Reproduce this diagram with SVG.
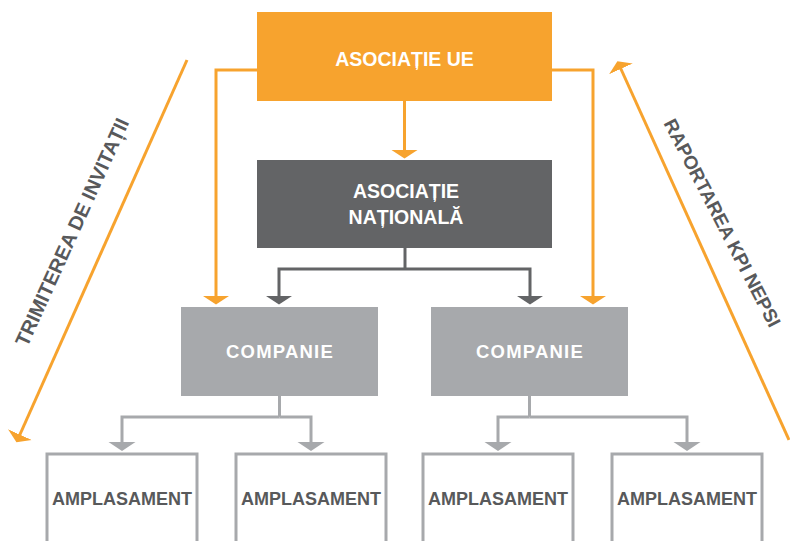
<svg xmlns="http://www.w3.org/2000/svg" width="790" height="541" viewBox="0 0 790 541">
<style>
.t{font-family:"Liberation Sans",Arial,sans-serif;font-weight:bold;text-anchor:middle}
.w{fill:#ffffff;font-size:19.5px}
.c{fill:#ffffff;font-size:18.5px;letter-spacing:1.2px}
.d{fill:#58595B}
.o{stroke:#F7A32E;stroke-width:3;fill:none}
.k{stroke:#636466;stroke-width:3;fill:none}
.g{stroke:#A7A9AC;stroke-width:3;fill:none}
</style>
<defs>
<marker id="ao" markerUnits="userSpaceOnUse" orient="auto" markerWidth="9" markerHeight="28" viewBox="0 -14 9 28" refX="1" refY="0"><path d="M0,-13 L8.5,0 L0,13 Z" fill="#F7A32E"/></marker>
<marker id="ak" markerUnits="userSpaceOnUse" orient="auto" markerWidth="9" markerHeight="28" viewBox="0 -14 9 28" refX="1" refY="0"><path d="M0,-13 L8.5,0 L0,13 Z" fill="#636466"/></marker>
<marker id="ag" markerUnits="userSpaceOnUse" orient="auto" markerWidth="10" markerHeight="28" viewBox="0 -14 10 28" refX="1" refY="0"><path d="M0,-13.5 L9,0 L0,13.5 Z" fill="#A7A9AC"/></marker>
</defs>
<g id="connectors">
<path class="o" d="M404.5,101 V151" marker-end="url(#ao)"/>
<path class="o" d="M257,70 H216 V297" marker-end="url(#ao)"/>
<path class="o" d="M552,70 H593 V297" marker-end="url(#ao)"/>
<path class="k" d="M405,248 V269"/>
<path class="k" d="M405,269 H279 V297" marker-end="url(#ak)"/>
<path class="k" d="M405,269 H530 V297" marker-end="url(#ak)"/>
<path class="g" d="M279.5,396 V417"/>
<path class="g" d="M279.5,417 H122 V443" marker-end="url(#ag)"/>
<path class="g" d="M279.5,417 H311 V443" marker-end="url(#ag)"/>
<path class="g" d="M529.5,396 V417"/>
<path class="g" d="M529.5,417 H498 V443" marker-end="url(#ag)"/>
<path class="g" d="M529.5,417 H687 V443" marker-end="url(#ag)"/>
<path class="o" d="M187,60 L19.5,435.5" marker-end="url(#ao)"/>
<path class="o" d="M789,440 L620.5,68" marker-end="url(#ao)"/>
</g>
<g id="asociatie-ue">
<rect x="257" y="12" width="295" height="89" fill="#F7A32E"/>
<text class="t w" x="404.5" y="66">ASOCIAȚIE UE</text>
</g>
<g id="asociatie-nationala">
<rect x="257" y="160" width="295" height="88" fill="#636466"/>
<text class="t w" x="406" y="198">ASOCIAȚIE</text>
<text class="t w" x="406" y="224">NAȚIONALĂ</text>
</g>
<g id="companie-1">
<rect x="181" y="307" width="197" height="89" fill="#A7A9AC"/>
<text class="t c" x="280" y="358">COMPANIE</text>
</g>
<g id="companie-2">
<rect x="431" y="307" width="197" height="89" fill="#A7A9AC"/>
<text class="t c" x="530" y="358">COMPANIE</text>
</g>
<g id="amplasament-1">
<rect x="47" y="454" width="150" height="100" fill="#ffffff" stroke="#A7A9AC" stroke-width="3"/>
<text class="t d" x="122" y="505" font-size="18">AMPLASAMENT</text>
</g>
<g id="amplasament-2">
<rect x="236" y="454" width="150" height="100" fill="#ffffff" stroke="#A7A9AC" stroke-width="3"/>
<text class="t d" x="311" y="505" font-size="18">AMPLASAMENT</text>
</g>
<g id="amplasament-3">
<rect x="423" y="454" width="150" height="100" fill="#ffffff" stroke="#A7A9AC" stroke-width="3"/>
<text class="t d" x="498" y="505" font-size="18">AMPLASAMENT</text>
</g>
<g id="amplasament-4">
<rect x="612" y="454" width="150" height="100" fill="#ffffff" stroke="#A7A9AC" stroke-width="3"/>
<text class="t d" x="687" y="505" font-size="18">AMPLASAMENT</text>
</g>
<g id="label-invitatii">
<text class="t d" font-size="20" transform="translate(78.4,234.9) rotate(-65.6)">TRIMITEREA DE INVITAȚII</text>
</g>
<g id="label-kpi">
<text class="t d" font-size="19" transform="translate(716.5,226) rotate(62.6)">RAPORTAREA KPI NEPSI</text>
</g>
</svg>
